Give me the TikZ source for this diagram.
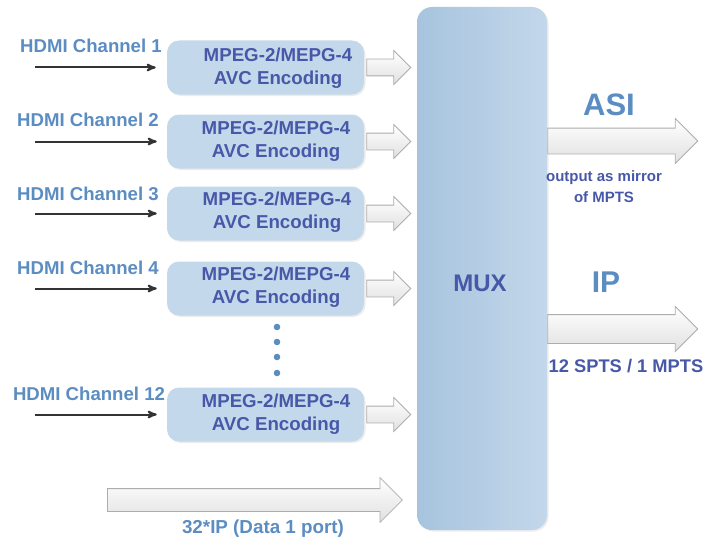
\documentclass[tikz,border=0pt]{standalone}
\usepackage{fontspec}
\setmainfont{Liberation Sans}
\usepackage{tikz}
\usetikzlibrary{arrows,shapes.arrows,shadows,positioning}
\definecolor{lblue}{HTML}{5B8DC2}
\definecolor{dblue}{HTML}{4858A8}
\definecolor{encfill}{HTML}{C4D8EB}
\definecolor{muxleft}{HTML}{A7C4DE}
\definecolor{muxright}{HTML}{C3D7EA}

\begin{document}
\begin{tikzpicture}[x=1pt,y=-1pt
  ,>=stealth'
  ,semithick]
  \tikzstyle{enc}=[fill=encfill, rounded corners=12pt
  ,minimum width=197pt, minimum height=54pt
  ,drop shadow={opacity=.15,shadow xshift=1.5pt,shadow yshift=-1.5pt}]
  \tikzstyle{enctext}=[text=dblue, align=center
  ,font=\bfseries\fontsize{18.7}{23}\selectfont]
  \tikzstyle{chan}=[text=lblue, font=\bfseries\fontsize{18.6}{21}\selectfont]
  \tikzstyle{feed}=[->, line width=2pt, draw=black!80]
  \tikzstyle{hollow}=[single arrow, draw=black!32, line width=.8pt
  ,top color=white, bottom color=black!12, inner xsep=0pt]
  \tikzstyle{smallarrow}=[hollow, inner ysep=8pt, single arrow head extend=8.5pt
  ,minimum height=44pt, anchor=tail]
  \tikzstyle{bigarrow}=[hollow, single arrow head extend=9.5pt, anchor=tail]
  \tikzstyle{outnote}=[text=dblue, align=center
  ,font=\bfseries\fontsize{15}{21}\selectfont]

  \useasboundingbox (0,0) rectangle (707,543);

  % the multiplexer
  \node[left color=muxleft, right color=muxright, rounded corners=15pt
  ,minimum width=130pt, minimum height=523pt
  ,drop shadow={opacity=.15,shadow xshift=1.5pt,shadow yshift=-1.5pt}]
  (mux) at (482,268.5) {};
  \node[text=dblue, font=\bfseries\fontsize{24}{28}\selectfont]
  (muxname) at (480,283) {MUX};

  % encoders
  \node[enc](e1) at (265.5,67.5) {};
  \node[enc](e2) at (265.5,141.5) {};
  \node[enc](e3) at (265.5,213.5) {};
  \node[enc](e4) at (265.5,288.5) {};
  \node[enc](e12) at (265.5,414.5) {};
  \node[enctext](t1) at (278,68.5) {MPEG-2/MEPG-4\\AVC Encoding};
  \node[enctext](t2) at (276,141) {MPEG-2/MEPG-4\\AVC Encoding};
  \node[enctext](t3) at (277,212) {MPEG-2/MEPG-4\\AVC Encoding};
  \node[enctext](t4) at (276,287.5) {MPEG-2/MEPG-4\\AVC Encoding};
  \node[enctext](t12) at (276,414.5) {MPEG-2/MEPG-4\\AVC Encoding};

  % HDMI inputs
  \node[chan](c1) at (91,46) {HDMI Channel 1};
  \node[chan](c2) at (88,120) {HDMI Channel 2};
  \node[chan](c3) at (88,194) {HDMI Channel 3};
  \node[chan](c4) at (88,268) {HDMI Channel 4};
  \node[chan](c12) at (89,394) {HDMI Channel 12};
  \coordinate (i1) at (35,67.5);
  \coordinate (i2) at (35,141.5);
  \coordinate (i3) at (35,213.5);
  \coordinate (i4) at (35,288.5);
  \coordinate (i12) at (35,414.5);
  \draw[feed, shorten >=11pt] (i1) -- (e1.west);
  \draw[feed, shorten >=10pt] (i2) -- (e2.west);
  \draw[feed, shorten >=10pt] (i3) -- (e3.west);
  \draw[feed, shorten >=10pt] (i4) -- (e4.west);
  \draw[feed, shorten >=10pt] (i12) -- (e12.west);

  % dots between channel 4 and 12
  \fill[lblue] (277,327) circle (3.3);
  \fill[lblue] (277,342) circle (3.3);
  \fill[lblue] (277,357) circle (3.3);
  \fill[lblue] (277,373) circle (3.3);

  % encoder -> mux
  \node[smallarrow](a1) at ([xshift=2pt]e1.east) {};
  \node[smallarrow](a2) at ([xshift=2pt]e2.east) {};
  \node[smallarrow](a3) at ([xshift=2pt]e3.east) {};
  \node[smallarrow](a4) at ([xshift=2pt]e4.east) {};
  \node[smallarrow](a12) at ([xshift=2pt]e12.east) {};

  % data port in
  \node[bigarrow, inner ysep=11pt, single arrow head extend=11pt
  ,minimum height=295pt](adata) at (107,500) {};
  \node[text=lblue, font=\bfseries\fontsize{18.8}{21}\selectfont]
  (data) at (263,529) {32*IP (Data 1 port)};

  % outputs
  \node[bigarrow, inner ysep=12.5pt, minimum height=150pt](aasi) at (mux.east |- 0,141) {};
  \node[text=lblue, font=\bfseries\fontsize{31}{34}\selectfont](asi) at (609,105) {ASI};
  \node[outnote](asinote) at (604,187) {output as mirror\\of MPTS};
  \node[bigarrow, inner ysep=14pt, single arrow head extend=8pt
  ,minimum height=150pt](aip) at (mux.east |- 0,329) {};
  \node[text=lblue, font=\bfseries\fontsize{30}{34}\selectfont](ip) at (606,282) {IP};
  \node[outnote, font=\bfseries\fontsize{18.3}{21}\selectfont](ipnote) at (626,366) {12 SPTS / 1 MPTS};
\end{tikzpicture}
\end{document}
